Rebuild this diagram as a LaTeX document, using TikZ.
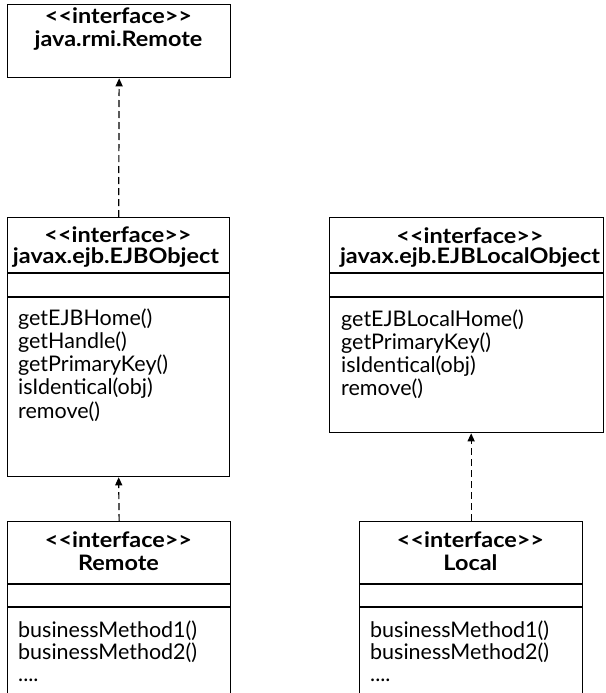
\documentclass[tikz,border=0pt]{standalone}
\usepackage{fontspec}
\setmainfont{Lato}
\newfontfamily\ttlfont{Lato}[FakeStretch=1.1]
\newfontfamily\methfont{Lato}
\usetikzlibrary{arrows.meta}
\newcommand{\stereo}{{<}{<}interface{>}{>}}
\tikzset{
  classbox/.style={draw, line width=1.3pt, inner sep=0pt, anchor=north west, minimum width=#1},
  ttl/.style={anchor=base, inner sep=0pt, font=\ttlfont\fontsize{21.3}{23}\selectfont\bfseries},
  meth/.style={anchor=base west, inner sep=0pt, font=\methfont\fontsize{21.5}{23}\selectfont},
  sep/.style={line width=1.3pt},
  dep/.style={line width=1.2pt, dash pattern=on 7pt off 4pt, -{Triangle[length=8pt,width=7pt]}}
}
\begin{document}
\begin{tikzpicture}[x=1pt,y=-1pt]
\useasboundingbox (0,0) rectangle (605,693);
% boxes
\node[classbox=223, minimum height=73] (rmi) at (7,4) {};
\node[classbox=222, minimum height=259] (ejbobj) at (7,217) {};
\node[classbox=274, minimum height=215] (ejblocal) at (329,217) {};
\node[classbox=223, minimum height=175] (remote) at (7,521) {};
\node[classbox=223, minimum height=175] (local) at (359,521) {};
% separators
\foreach \b/\a/\c in {ejbobj/56/80, ejblocal/56/80, remote/63/86, local/63/86}{
  \draw[sep] ([yshift=-\a pt]\b.north west) -- ([yshift=-\a pt]\b.north east);
  \draw[sep] ([yshift=-\c pt]\b.north west) -- ([yshift=-\c pt]\b.north east);
}
% titles
\node[ttl] (rmi1) at (118.5,24) {\stereo};
\node[ttl] (rmi2) at (118.5,47) {java.rmi.Remote};
\node[ttl] (obj1) at (118,242) {\stereo};
\node[ttl] (obj2) at (116,263) {javax.ejb.EJBObject};
\node[ttl] (loc1) at (470,243) {\stereo};
\node[ttl] (loc2) at (470,263) {javax.ejb.EJBLocalObject};
\node[ttl] (rem1) at (118.5,547) {\stereo};
\node[ttl] (rem2) at (118.5,570) {Remote};
\node[ttl] (lcl1) at (470.5,547) {\stereo};
\node[ttl] (lcl2) at (470.5,570) {Local};
% methods
\foreach \t [count=\i] in {getEJBHome(), getHandle(), getPrimaryKey(), isIdentical(obj), remove()}
  \node[meth] (objm\i) at (18,{325+23.3*(\i-1)}) {\t};
\foreach \t [count=\i] in {getEJBLocalHome(), getPrimaryKey(), isIdentical(obj), remove()}
  \node[meth] (locm\i) at (341,{326+23.3*(\i-1)}) {\t};
\node[meth] (remm1) at (18,637) {businessMethod1()};
\node[meth] (remm2) at (18,659) {businessMethod2()};
\node[meth] (remm3) at (18,681) {....};
\node[meth] (lclm1) at (370,637) {businessMethod1()};
\node[meth] (lclm2) at (370,659) {businessMethod2()};
\node[meth] (lclm3) at (370,681) {....};
% dependencies
\draw[dep] (ejbobj.north) -- (rmi.south);
\draw[dep] (remote.north) -- (ejbobj.south);
\draw[dep] (local.north) -- (local.north |- ejblocal.south);
\end{tikzpicture}
\end{document}
